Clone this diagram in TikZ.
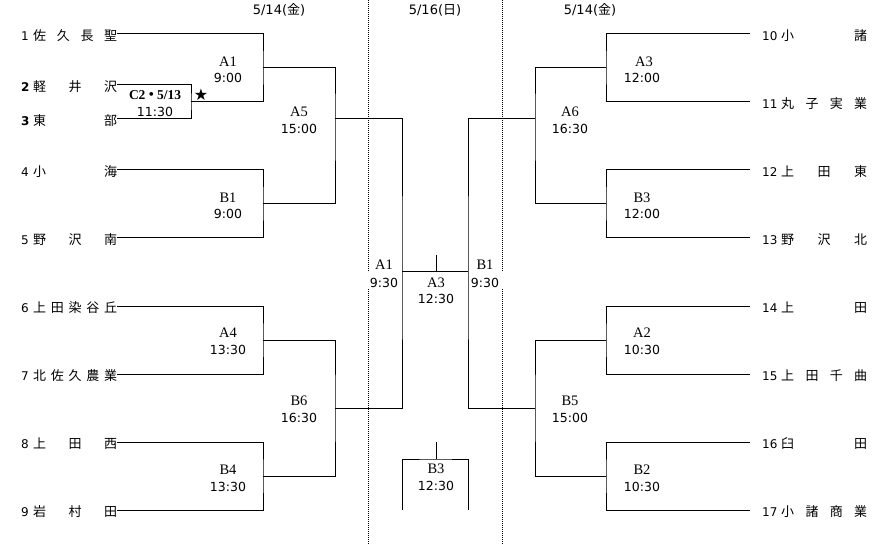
\documentclass[tikz,border=0pt]{standalone}
\usepackage{fontspec}
\setmainfont{Liberation Serif}
\newfontfamily\jp{Noto Sans CJK JP}
\newfontfamily\dv{DejaVu Sans}
\newfontfamily\lser{Liberation Serif}
\tikzset{
  br/.style={line width=1pt},
  dotln/.style={line width=1pt, dash pattern=on 1pt off 1pt},
  tname/.style={inner sep=0pt, anchor=west, text height=14pt, text depth=1pt, font=\jp\fontsize{13}{13}\selectfont},
  tnum/.style={inner ysep=0pt, inner xsep=0pt, anchor=west, text height=14pt, text depth=1pt, font=\dv\fontsize{12}{12}\selectfont},
  bnum/.style={tnum, font=\dv\bfseries\fontsize{12}{12}\selectfont},
  rnum/.style={tnum, inner xsep=12pt},
  code/.style={inner sep=0pt, font=\lser\fontsize{14.5}{15}\selectfont},
  tm/.style={inner sep=0pt, font=\dv\fontsize{12.5}{13}\selectfont},
  datel/.style={inner sep=0pt, font=\dv\fontsize{13}{13}\selectfont},
}
\newcommand{\nm}[1]{\makebox[84pt][s]{#1}}
\newcommand{\rnm}[1]{\makebox[86pt][s]{#1}}
\begin{document}
\begin{tikzpicture}[x=1pt,y=-1pt]
\useasboundingbox (0,0) rectangle (883,545);
% dates
\node[datel] (d1) at (279,10) {5/14({\jp 金})};
\node[datel] (d2) at (435,10) {5/16({\jp 日})};
\node[datel] (d3) at (590,10) {5/14({\jp 金})};
% dotted separators
\draw[dotln] (368,0) -- (368,271) (368,289) -- (368,545);
\draw[dotln] (502,0) -- (502,271) (502,289) -- (502,545);
% left teams
\node[tnum] (n1) at (21,34) {1};
\node[tname] (L1) at (33,34) {\nm{佐\hfill 久\hfill 長\hfill 聖}};
\node[bnum] (n2) at (21,85) {2};
\node[tname] (L2) at (33,85) {\nm{軽\hfill 井\hfill 沢}};
\node[bnum] (n3) at (21,119) {3};
\node[tname] (L3) at (33,119) {\nm{東\hfill 部}};
\node[tnum] (n4) at (21,170) {4};
\node[tname] (L4) at (33,170) {\nm{小\hfill 海}};
\node[tnum] (n5) at (21,238) {5};
\node[tname] (L5) at (33,238) {\nm{野\hfill 沢\hfill 南}};
\node[tnum] (n6) at (21,306) {6};
\node[tname] (L6) at (33,306) {\nm{上\hfill 田\hfill 染\hfill 谷\hfill 丘}};
\node[tnum] (n7) at (21,374) {7};
\node[tname] (L7) at (33,374) {\nm{北\hfill 佐\hfill 久\hfill 農\hfill 業}};
\node[tnum] (n8) at (21,442) {8};
\node[tname] (L8) at (33,442) {\nm{上\hfill 田\hfill 西}};
\node[tnum] (n9) at (21,510) {9};
\node[tname] (L9) at (33,510) {\nm{岩\hfill 村\hfill 田}};
% right teams
\node[rnum] (R10) at (750,34) {10};
\node[tname] (R10t) at (781,34) {\rnm{小\hfill 諸}};
\node[rnum] (R11) at (750,102) {11};
\node[tname] (R11t) at (781,102) {\rnm{丸\hfill 子\hfill 実\hfill 業}};
\node[rnum] (R12) at (750,170) {12};
\node[tname] (R12t) at (781,170) {\rnm{上\hfill 田\hfill 東}};
\node[rnum] (R13) at (750,238) {13};
\node[tname] (R13t) at (781,238) {\rnm{野\hfill 沢\hfill 北}};
\node[rnum] (R14) at (750,306) {14};
\node[tname] (R14t) at (781,306) {\rnm{上\hfill 田}};
\node[rnum] (R15) at (750,374) {15};
\node[tname] (R15t) at (781,374) {\rnm{上\hfill 田\hfill 千\hfill 曲}};
\node[rnum] (R16) at (750,442) {16};
\node[tname] (R16t) at (781,442) {\rnm{臼\hfill 田}};
\node[rnum] (R17) at (750,510) {17};
\node[tname] (R17t) at (781,510) {\rnm{小\hfill 諸\hfill 商\hfill 業}};
% junctions
\coordinate (c2) at (191,102);
\coordinate (a1) at (263,68);
\coordinate (b1) at (263,204);
\coordinate (a4) at (263,340);
\coordinate (b4) at (263,476);
\coordinate (a5) at (335,119);
\coordinate (b6) at (335,408);
\coordinate (lc) at (402,272);
\coordinate (rc) at (468,272);
\coordinate (a6) at (535,119);
\coordinate (b5) at (535,408);
\coordinate (a3r) at (606,68);
\coordinate (b3r) at (606,204);
\coordinate (a2) at (606,340);
\coordinate (b2) at (606,476);
\coordinate (fin) at (436,255);
\coordinate (b3t) at (436,442);
\coordinate (b3m) at (436,459);
\coordinate (b3l) at (402,510);
\coordinate (b3rr) at (468,510);
% left brackets
\draw[br] (L2.east) -| (c2) |- (L3.east);
\draw[br] (L1.east) -| (a1) |- (c2);
\draw[br] (L4.east) -| (b1) |- (L5.east);
\draw[br] (L6.east) -| (a4) |- (L7.east);
\draw[br] (L8.east) -| (b4) |- (L9.east);
\draw[br] (a1) -| (a5) |- (b1);
\draw[br] (a4) -| (b6) |- (b4);
\draw[br] (a5) -| (lc) |- (b6);
% centre
\draw[br] (lc) -- (rc);
\draw[br] (fin) -- (fin |- lc);
\draw[br] (b3l) |- (b3m) -| (b3rr);
\draw[br] (b3t) -- (b3m);
% right brackets
\draw[br] (R10.west) -| (a3r) |- (R11.west);
\draw[br] (R12.west) -| (b3r) |- (R13.west);
\draw[br] (R14.west) -| (a2) |- (R15.west);
\draw[br] (R16.west) -| (b2) |- (R17.west);
\draw[br] (a3r) -| (a6) |- (b3r);
\draw[br] (a2) -| (b5) |- (b2);
\draw[br] (a6) -| (rc) |- (b5);
% star
\node[inner sep=0pt, font=\dv\fontsize{16}{16}\selectfont] (star) at (201,95) {★};
% labels
\node[inner sep=0pt, font=\lser\bfseries\fontsize{13.5}{14}\selectfont] (c2l) at (155,95) {C2\kern-1pt{\jp ・}\kern-1pt 5/13};
\node[tm] (c2t) at (155,112) {11:30};
\node[code] (la1) at (228,62) {A1};   \node[tm] (ta1) at (228,78) {9:00};
\node[code] (lb1) at (228,198) {B1};  \node[tm] (tb1) at (228,214) {9:00};
\node[code] (la4) at (228,333) {A4};  \node[tm] (ta4) at (228,350) {13:30};
\node[code] (lb4) at (228,470) {B4};  \node[tm] (tb4) at (228,487) {13:30};
\node[code] (la5) at (299,112) {A5};  \node[tm] (ta5) at (299,129) {15:00};
\node[code] (lb6) at (299,401) {B6};  \node[tm] (tb6) at (299,418) {16:30};
\node[code] (ca1) at (384,265) {A1};  \node[tm] (cta1) at (384,283) {9:30};
\node[code] (ca3) at (436,283) {A3};  \node[tm] (cta3) at (436,299) {12:30};
\node[code] (cb1) at (485,265) {B1};  \node[tm] (ctb1) at (485,283) {9:30};
\node[code] (cb3) at (436,469) {B3};  \node[tm] (ctb3) at (436,486) {12:30};
\node[code] (ra3) at (644,62) {A3};   \node[tm] (rta3) at (642,78) {12:00};
\node[code] (rb3) at (642,198) {B3};  \node[tm] (rtb3) at (642,214) {12:00};
\node[code] (ra2) at (642,333) {A2};  \node[tm] (rta2) at (642,350) {10:30};
\node[code] (rb2) at (642,470) {B2};  \node[tm] (rtb2) at (642,487) {10:30};
\node[code] (ra6) at (570,112) {A6};  \node[tm] (rta6) at (570,129) {16:30};
\node[code] (rb5) at (570,401) {B5};  \node[tm] (rtb5) at (570,418) {15:00};
\end{tikzpicture}
\end{document}
